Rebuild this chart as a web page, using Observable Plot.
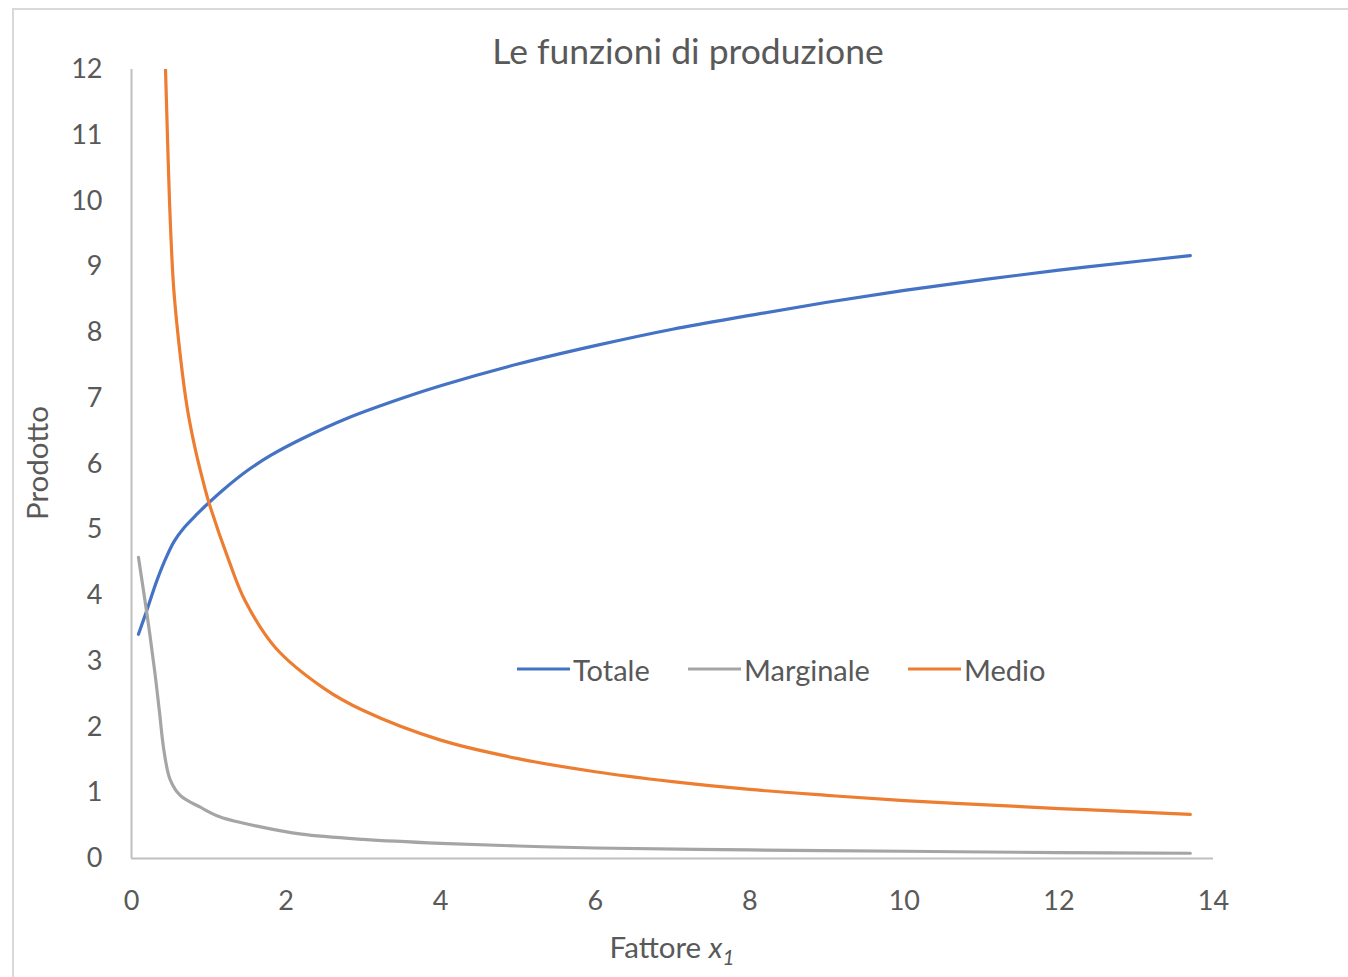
<!DOCTYPE html>
<html>
<head>
<meta charset="utf-8">
<script src="https://cdn.jsdelivr.net/npm/d3@7"></script>
<script src="https://cdn.jsdelivr.net/npm/@observablehq/plot@0.6"></script>
<style>
  html, body { margin: 0; padding: 0; background: #fff; overflow: hidden; }
  #wrap { position: relative; width: 1348px; height: 977px; overflow: hidden; font-family: Lato, "Open Sans", sans-serif; color: #595959; }
  #frame { position: absolute; left: 12px; top: 8px; width: 1400px; height: 1000px; border: 2px solid #d9d9d9; box-sizing: border-box; pointer-events: none; }
  #chart { position: absolute; left: 0; top: 0; }
  .abs { position: absolute; white-space: nowrap; line-height: 1; }
  #title { left: 688px; top: 33px; transform: translateX(-50%); font-size: 35.5px; }
  #ylab { left: 37px; top: 463px; transform: translate(-50%, -50%) rotate(-90deg); font-size: 29.5px; }
  #xlab { left: 672px; top: 947px; transform: translate(-50%, -50%); font-size: 29.5px; }
  #xlab sub { font-size: 0.7em; vertical-align: -0.35em; line-height: 0; }
  .leg { position: absolute; top: 669px; transform: translateY(-50%); display: flex; align-items: center; font-size: 29px; line-height: 1; white-space: nowrap; }
  .leg .sw { display: inline-block; width: 53px; height: 3px; margin-right: 3px; }
</style>
</head>
<body>
<div id="wrap">
  <div id="chart"></div>
  <div id="frame"></div>
  <div id="title" class="abs">Le funzioni di produzione</div>
  <div id="ylab" class="abs">Prodotto</div>
  <div id="xlab" class="abs">Fattore <i>x</i><sub><i>1</i></sub></div>
  <div id="legend"></div>
</div>
<script>
// ---- data ----
const xTicks = [0, 2, 4, 6, 8, 10, 12, 14];
const yTicks = [0, 1, 2, 3, 4, 5, 6, 7, 8, 9, 10, 11, 12];

const seriesNames = ["Totale", "Marginale", "Medio"];
const seriesColors = ["#4472C4", "#A5A5A5", "#ED7D31"];

const totaleX = [0.09, 0.2, 0.32, 0.42, 0.55, 0.68, 0.85, 1.0, 1.2, 1.5, 1.8, 2.2, 2.8, 3.5, 4, 5, 6, 7, 8, 9, 10, 11, 12, 13, 13.7];
const totaleY = [3.41, 3.78, 4.2, 4.5, 4.82, 5.03, 5.24, 5.41, 5.62, 5.9, 6.13, 6.38, 6.7, 7.0, 7.19, 7.52, 7.8, 8.05, 8.26, 8.46, 8.64, 8.8, 8.95, 9.08, 9.17];

const marginaleX = [0.09, 0.2, 0.3, 0.36, 0.42, 0.5, 0.63, 0.89, 1.15, 1.67, 2.2, 3, 4, 5, 6, 8, 10, 12, 13.7];
const marginaleY = [4.58, 3.72, 2.85, 2.25, 1.64, 1.2, 0.96, 0.78, 0.63, 0.48, 0.37, 0.29, 0.23, 0.19, 0.16, 0.13, 0.11, 0.09, 0.08];

const medioX = [0.44, 0.46, 0.475, 0.505, 0.548, 0.634, 0.72, 0.83, 0.957, 1.0, 1.26, 1.47, 1.86, 2.5, 3, 4, 5, 6, 7, 8, 9, 10, 11, 12, 13, 13.7];
const medioY = [12, 11.2, 10.6, 9.6, 8.64, 7.62, 6.86, 6.2, 5.6, 5.42, 4.53, 3.92, 3.21, 2.58, 2.25, 1.8, 1.52, 1.32, 1.17, 1.05, 0.96, 0.88, 0.82, 0.76, 0.71, 0.67];

// ---- build table ----
const rows = [];
totaleX.forEach((x, i) => rows.push({serie: "Totale", x, y: totaleY[i]}));
marginaleX.forEach((x, i) => rows.push({serie: "Marginale", x, y: marginaleY[i]}));
medioX.forEach((x, i) => rows.push({serie: "Medio", x, y: medioY[i]}));

const chart = Plot.plot({
  width: 1348,
  height: 977,
  marginLeft: 131,
  marginRight: 135,
  marginTop: 69,
  marginBottom: 119,
  style: {fontFamily: "Lato, 'Open Sans', sans-serif", fontSize: "27px", color: "#595959", background: "transparent"},
  x: {domain: [0, 14], ticks: xTicks, tickSize: 0, tickPadding: 32, label: null},
  y: {domain: [0, 12], ticks: yTicks, tickSize: 0, tickPadding: 29, label: null},
  color: {domain: seriesNames, range: seriesColors},
  marks: [
    Plot.ruleX([0], {stroke: "#bfbfbf", strokeWidth: 2}),
    Plot.ruleY([0], {stroke: "#bfbfbf", strokeWidth: 2}),
    Plot.line(rows, {x: "x", y: "y", z: "serie", stroke: "serie", strokeWidth: 3.2, curve: "catmull-rom", clip: true})
  ]
});
document.getElementById("chart").appendChild(chart);

// ---- legend ----
const legendLeft = [517, 688, 908];
const legend = document.getElementById("legend");
seriesNames.forEach((name, i) => {
  const item = document.createElement("div");
  item.className = "leg";
  item.style.left = legendLeft[i] + "px";
  const sw = document.createElement("span");
  sw.className = "sw";
  sw.style.background = seriesColors[i];
  const t = document.createElement("span");
  t.textContent = name;
  item.appendChild(sw);
  item.appendChild(t);
  legend.appendChild(item);
});
</script>
</body>
</html>
